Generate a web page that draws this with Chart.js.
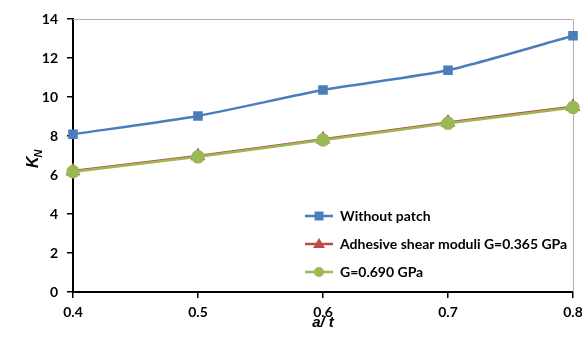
<!DOCTYPE html>
<html><head><meta charset="utf-8">
<script src="https://cdn.jsdelivr.net/npm/chart.js@4"></script>
<style>html,body{margin:0;padding:0;background:#fff}#w{width:582px;height:343px}</style>
</head><body><div id="w"><canvas id="c"></canvas></div>
<script>
const categories = [0.4, 0.5, 0.6, 0.7, 0.8];
const withoutPatch = [8.09, 9.03, 10.36, 11.37, 13.14];
const g0365 = [6.21, 6.97, 7.83, 8.69, 9.50];
const g0690 = [6.17, 6.93, 7.79, 8.65, 9.46];
const seriesNames = ['Without patch', 'Adhesive shear moduli G=0.365 GPa', 'G=0.690 GPa'];
const yTicks = [0, 2, 4, 6, 8, 10, 12, 14];

const FONT = 'Lato, "Liberation Sans", sans-serif';
const TFONT = '"Liberation Sans", sans-serif';
const pts = v => categories.map((x, i) => ({x, y: v[i]}));

const overlay = {
  id: 'overlay',
  afterDraw(chart) {
    const {ctx, chartArea: a} = chart;
    ctx.save();
    ctx.fillStyle = '#000';
    ctx.font = 'italic bold 15px ' + TFONT;
    ctx.textAlign = 'center'; ctx.textBaseline = 'middle';
    ctx.fillText('a/ t', 323, 323);
    ctx.translate(34, 157); ctx.rotate(-Math.PI / 2);
    ctx.textAlign = 'left';
    ctx.font = 'italic bold 16px ' + TFONT;
    const kw = ctx.measureText('K').width;
    ctx.fillText('K', -11, 0);
    ctx.font = 'italic bold 11px ' + TFONT;
    ctx.fillText('N', -11 + kw - 1, 5);
    ctx.restore();
    ctx.save();
    const rows = [216, 244, 272];
    chart.data.datasets.forEach((ds, i) => {
      const y = rows[i];
      ctx.strokeStyle = ds.borderColor; ctx.lineWidth = 2.5;
      ctx.beginPath(); ctx.moveTo(305, y); ctx.lineTo(333, y); ctx.stroke();
      ctx.fillStyle = ds.pointBackgroundColor;
      ctx.beginPath();
      const cx = 319;
      if (ds.pointStyle === 'rect') ctx.rect(cx - 4.5, y - 4.5, 9, 9);
      else if (ds.pointStyle === 'triangle') { ctx.moveTo(cx, y - 6); ctx.lineTo(cx + 6, y + 4); ctx.lineTo(cx - 6, y + 4); ctx.closePath(); }
      else ctx.arc(cx, y, 5, 0, Math.PI * 2);
      ctx.fill();
      ctx.fillStyle = '#000';
      ctx.font = 'bold 14px ' + FONT;
      ctx.textAlign = 'left'; ctx.textBaseline = 'middle';
      ctx.fillText(ds.label, 340, y);
    });
    ctx.restore();
  },
  beforeDatasetsDraw(chart) {
    const {ctx, chartArea: a} = chart;
    ctx.save();
    ctx.strokeStyle = '#b0b0b0'; ctx.lineWidth = 1;
    ctx.beginPath();
    ctx.moveTo(a.left, a.top + 0.5); ctx.lineTo(a.right + 0.5, a.top + 0.5);
    ctx.lineTo(a.right + 0.5, a.bottom);
    ctx.stroke();
    ctx.restore();
  }
};

const mk = (label, data, color, style, r, order) => ({
  label, data: pts(data), borderColor: color, backgroundColor: color,
  pointBackgroundColor: color, pointBorderColor: color, pointStyle: style,
  pointRadius: r, pointHoverRadius: r, borderWidth: 2.5, tension: 0.2, clip: false, order
});

new Chart(document.getElementById('c'), {
  type: 'line',
  data: { datasets: [
    mk(seriesNames[0], withoutPatch, '#4a7ebb', 'rect', 5, 2),
    mk(seriesNames[1], g0365, '#be4b48', 'triangle', 6, 1),
    mk(seriesNames[2], g0690, '#98b954', 'circle', 5.5, 0)
  ]},
  options: {
    responsive: true, maintainAspectRatio: false, animation: false,
    layout: { padding: { top: 19, right: 9, left: 0, bottom: 0 } },
    plugins: { legend: { display: false }, tooltip: { enabled: false } },
    scales: {
      x: {
        type: 'linear', min: 0.4, max: 0.8,
        afterFit: s => { s.height = 51; s.paddingLeft = 0; s.paddingRight = 0; },
        afterBuildTicks: s => { s.ticks = categories.map(v => ({value: v})); },
        grid: { drawOnChartArea: false, drawTicks: true, tickLength: 6, color: '#000', lineWidth: 1.5 },
        border: { color: '#000', width: 2 },
        ticks: { padding: 6, color: '#000', font: { family: FONT, size: 14, weight: 'bold' }, maxRotation: 0,
          callback: v => v.toFixed(1) }
      },
      y: {
        min: 0, max: 14,
        afterFit: s => { s.width = 73; s.paddingTop = 0; s.paddingBottom = 0; },
        afterBuildTicks: s => { s.ticks = yTicks.map(v => ({value: v})); },
        grid: { drawOnChartArea: false, drawTicks: true, tickLength: 6, color: '#000', lineWidth: 1.5 },
        border: { color: '#000', width: 2 },
        ticks: { padding: 9, color: '#000', font: { family: FONT, size: 14, weight: 'bold' } }
      }
    }
  },
  plugins: [overlay]
});
</script></body></html>
